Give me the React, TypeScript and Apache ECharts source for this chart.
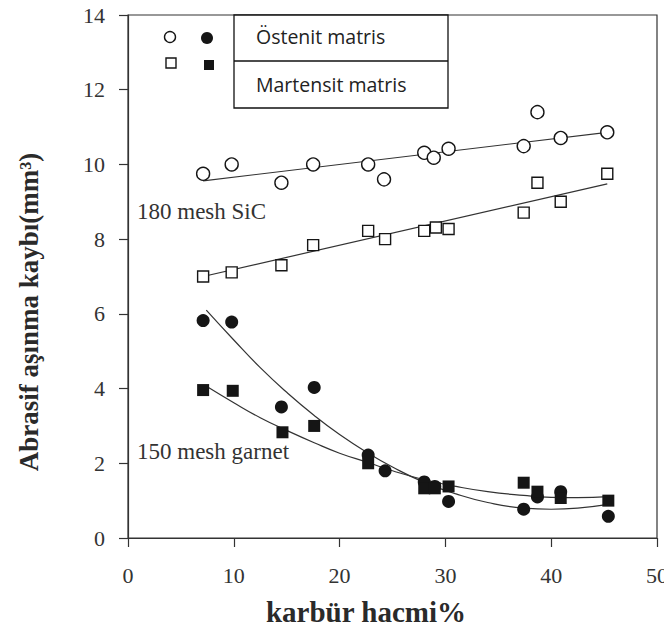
import React, { useEffect, useRef } from "react";
import * as echarts from "echarts";

// 180 mesh SiC – Östenit matris (open circles)
const sicAustX = [7.1, 9.8, 14.5, 17.5, 22.7, 24.2, 28.0, 28.9, 30.3, 37.4, 38.7, 40.9, 45.3];
const sicAustY = [9.75, 10.0, 9.51, 10.0, 10.0, 9.6, 10.31, 10.18, 10.42, 10.49, 11.4, 10.71, 10.86];
// 180 mesh SiC – Martensit matris (open squares)
const sicMartX = [7.1, 9.8, 14.5, 17.5, 22.7, 24.3, 28.0, 29.1, 30.3, 37.4, 38.7, 40.9, 45.3];
const sicMartY = [7.0, 7.11, 7.3, 7.84, 8.22, 8.0, 8.22, 8.31, 8.27, 8.71, 9.51, 9.0, 9.75];
// 150 mesh garnet – Östenit matris (filled circles)
const garAustX = [7.1, 9.8, 14.5, 17.6, 22.7, 24.3, 28.0, 29.0, 30.3, 37.4, 38.7, 40.9, 45.4];
const garAustY = [5.82, 5.78, 3.51, 4.03, 2.22, 1.8, 1.5, 1.38, 0.98, 0.77, 1.1, 1.24, 0.58];
// 150 mesh garnet – Martensit matris (filled squares)
const garMartX = [7.1, 9.9, 14.6, 17.6, 22.7, 28.0, 29.0, 30.3, 37.4, 38.7, 40.9, 45.4];
const garMartY = [3.96, 3.94, 2.83, 3.0, 2.0, 1.33, 1.33, 1.38, 1.48, 1.24, 1.07, 1.0];

// fit curves
const fitSicAustX = [7.1, 45.3];
const fitSicAustY = [9.56, 10.86];
const fitSicMartX = [7.1, 45.3];
const fitSicMartY = [7.0, 9.48];
const fitGarAustX = [7.4, 10, 12.5, 15, 17.6, 20, 22.7, 25, 28, 31, 34, 37.4, 40, 42.5, 45.4];
const fitGarAustY = [6.1, 5.3, 4.56, 3.9, 3.28, 2.77, 2.27, 1.9, 1.49, 1.18, 0.95, 0.8, 0.77, 0.8, 0.9];
const fitGarMartX = [7.3, 10, 12.5, 15, 17.6, 20, 22.7, 25, 28, 31, 34, 37.4, 40, 42.5, 45.4];
const fitGarMartY = [4.08, 3.62, 3.22, 2.88, 2.55, 2.27, 2.02, 1.8, 1.56, 1.38, 1.24, 1.14, 1.09, 1.08, 1.11];

const xTicks = [0, 10, 20, 30, 40, 50];
const yTicks = [0, 2, 4, 6, 8, 10, 12, 14];

const legendLabels = ["Östenit matris", "Martensit matris"];
const annotations = ["180 mesh SiC", "150 mesh garnet"];
const xTitle = "karbür hacmi%";
const yTitle = "Abrasif aşınma kaybı(mm³)";

const zip = (xs: number[], ys: number[]) => xs.map((x, i) => [x, ys[i]]);

const INK = "#151515";

export default function App() {
  const ref = useRef<HTMLDivElement>(null);
  useEffect(() => {
    if (!ref.current) return;
    const chart = echarts.init(ref.current, undefined, { renderer: "svg" });
    const serif = "'Liberation Serif', 'DejaVu Serif', serif";
    const sans = "'Open Sans', 'Noto Sans', sans-serif";
    const scatterBase = (name: string, data: number[][], symbol: string, filled: boolean, size: number) => ({
      name,
      type: "scatter",
      data,
      symbol,
      symbolSize: size,
      itemStyle: {
        color: filled ? INK : "#fff",
        borderColor: INK,
        borderWidth: filled ? 0 : 1.4,
        opacity: 1,
      },
      z: 5,
    });
    const fit = (data: number[][]) => ({
      type: "line",
      data,
      smooth: true,
      showSymbol: false,
      symbol: "none",
      lineStyle: { color: "#333", width: 1.2 },
      z: 3,
    });
    chart.setOption({
      animation: false,
      backgroundColor: "#fff",
      grid: {
        left: 128,
        right: 15,
        top: 15,
        bottom: 95,
        show: true,
        borderColor: "#333",
        borderWidth: 1.2,
        backgroundColor: "transparent",
      },
      xAxis: {
        type: "value",
        min: xTicks[0],
        max: xTicks[xTicks.length - 1],
        interval: 10,
        splitLine: { show: false },
        axisLine: { lineStyle: { color: "#333", width: 1.2 } },
        axisTick: { inside: false, length: 9, lineStyle: { color: "#333", width: 1.2 } },
        axisLabel: { margin: 26, fontFamily: serif, fontSize: 22, color: "#333" },
      },
      yAxis: {
        type: "value",
        min: yTicks[0],
        max: yTicks[yTicks.length - 1],
        interval: 2,
        splitLine: { show: false },
        axisLine: { show: true, lineStyle: { color: "#333", width: 1.2 } },
        axisTick: { show: true, inside: false, length: 9, lineStyle: { color: "#333", width: 1.2 } },
        axisLabel: { margin: 23, fontFamily: serif, fontSize: 22, color: "#333" },
      },
      series: [
        fit(zip(fitSicAustX, fitSicAustY)),
        fit(zip(fitSicMartX, fitSicMartY)),
        fit(zip(fitGarAustX, fitGarAustY)),
        fit(zip(fitGarMartX, fitGarMartY)),
        scatterBase("sicAust", zip(sicAustX, sicAustY), "circle", false, 13),
        scatterBase("sicMart", zip(sicMartX, sicMartY), "rect", false, 11),
        scatterBase("garAust", zip(garAustX, garAustY), "circle", true, 13),
        scatterBase("garMart", zip(garMartX, garMartY), "rect", true, 12),
      ],
      graphic: [
        { type: "circle", shape: { cx: 170, cy: 37, r: 5.5 }, style: { fill: "#fff", stroke: INK, lineWidth: 1.4 } },
        { type: "circle", shape: { cx: 207, cy: 38, r: 6 }, style: { fill: INK } },
        { type: "rect", shape: { x: 166, y: 58, width: 10, height: 10 }, style: { fill: "#fff", stroke: INK, lineWidth: 1.4 } },
        { type: "rect", shape: { x: 204, y: 60, width: 10, height: 10 }, style: { fill: INK } },
        { type: "rect", shape: { x: 234, y: 15, width: 214, height: 93 }, style: { fill: "#fff", stroke: "#111", lineWidth: 1.3 }, z: 10 },
        { type: "line", shape: { x1: 234, y1: 61, x2: 448, y2: 61 }, style: { stroke: "#111", lineWidth: 1.3 }, z: 11 },
        { type: "text", x: 256, y: 36, style: { text: legendLabels[0], font: `19.5px ${sans}`, fill: "#222", verticalAlign: "middle" }, z: 12 },
        { type: "text", x: 256, y: 84, style: { text: legendLabels[1], font: `19.5px ${sans}`, fill: "#222", verticalAlign: "middle" }, z: 12 },
        { type: "text", x: 137, y: 211, style: { text: annotations[0], font: `23px ${serif}`, fill: "#333", verticalAlign: "middle" }, z: 12 },
        { type: "text", x: 137, y: 451, style: { text: annotations[1], font: `23px ${serif}`, fill: "#333", verticalAlign: "middle" }, z: 12 },
        {
          type: "text",
          x: 29,
          y: 312,
          rotation: Math.PI / 2,
          style: { text: yTitle, font: `bold 27px ${serif}`, fill: "#2a2a2a", align: "center", verticalAlign: "middle" },
          z: 12,
        },
        {
          type: "text",
          x: 366,
          y: 612,
          style: { text: xTitle, font: `bold 29px ${serif}`, fill: "#2a2a2a", align: "center", verticalAlign: "middle" },
          z: 12,
        },
      ],
    });
    return () => chart.dispose();
  }, []);
  return <div ref={ref} style={{ width: 672, height: 633, margin: -8 }} />;
}
